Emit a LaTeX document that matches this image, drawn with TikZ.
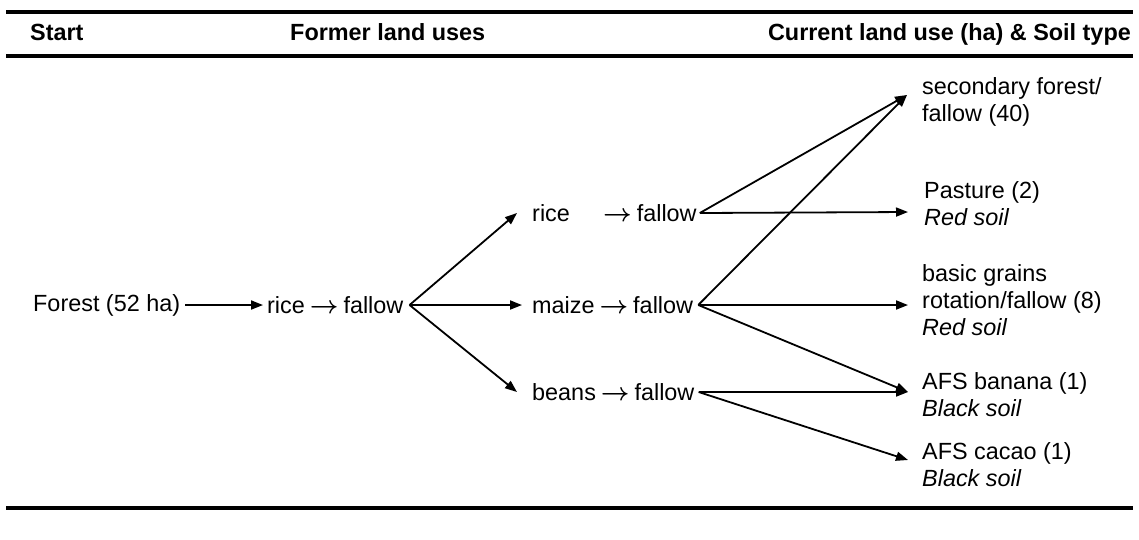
\documentclass[tikz,border=0pt]{standalone}
\usepackage{fontspec}
\setmainfont{Liberation Sans}
\usetikzlibrary{arrows.meta,calc}
\newcommand{\toarr}{\hspace{5pt}{\boldmath$\rightarrow$}\hspace{5pt}}
\begin{document}
\begin{tikzpicture}[x=1pt,y=-1pt,
  txt/.style={inner sep=0pt, anchor=west, font=\fontsize{23.4}{27}\selectfont, align=left},
  hdr/.style={inner sep=0pt, anchor=base west, font=\fontsize{23.4}{27}\selectfont\bfseries},
  rulebar/.style={line width=3.5pt},
  conn/.style={line width=1.8pt, -{Triangle[length=12pt,width=9pt]}}]
\fill[white] (0,0) rectangle (1139,539);
\useasboundingbox (0,0) rectangle (1139,539);
% rules
\draw[rulebar] (6,12) -- (1133,12);
\draw[rulebar] (6,56) -- (1133,56);
\draw[rulebar] (6,508) -- (1133,508);
% headers
\node[hdr] (hS) at (30,40) {Start};
\node[hdr] (hF) at (290,40) {Former land uses};
\node[hdr, anchor=base east] (hC) at (1131,40) {Current land use (ha) \& Soil type};
% left and middle nodes
\node[txt] (forest) at (33,305) {Forest (52 ha)};
\node[txt] (rf) at (267,305) {rice\toarr fallow};
\node[txt] (rice) at (532,213) {\makebox[66pt][l]{rice}\toarr fallow};
\node[txt] (maize) at (532,305) {maize\toarr fallow};
\node[txt] (beans) at (532,392) {beans\toarr fallow};
% right nodes
\node[txt] (sec) at (922,101.5) {secondary forest/\\fallow (40)};
\node[txt] (past) at (924,204) {Pasture (2)\\\textit{Red soil}};
\node[txt] (grain) at (922,300) {basic grains\\rotation/fallow (8)\\\textit{Red soil}};
\node[txt] (ban) at (922,395) {AFS banana (1)\\\textit{Black soil}};
\node[txt] (cac) at (922,465) {AFS cacao (1)\\\textit{Black soil}};
% branch points
\coordinate (v0) at ($(rf.east)+(6,0)$);
\coordinate (v1) at ($(rice.east)+(3,0)$);
\coordinate (v2) at ($(maize.east)+(5,0)$);
\coordinate (v3) at ($(beans.east)+(4,0)$);
% arrow end points
\coordinate (tRice) at ($(rice.west)+(-15,0)$);
\coordinate (tMaize) at ($(maize.west)+(-10,0)$);
\coordinate (tBeans) at ($(beans.west)+(-15,0)$);
\coordinate (tSec) at ($(sec.west)+(-15,-6.5)$);
\coordinate (tPast) at ($(past.west)+(-16,8)$);
\coordinate (tGrain) at ($(grain.west)+(-14,5)$);
\coordinate (tBan) at ($(ban.west)+(-14,-3)$);
\coordinate (tCac) at ($(cac.west)+(-14,-5)$);
% connectors
\draw[conn, shorten <=5pt, shorten >=4pt] (forest.east) -- (rf.west);
\draw[conn] (v0) -- (tRice);
\draw[conn] (v0) -- (tMaize);
\draw[conn] (v0) -- (tBeans);
\draw[conn] (v1) -- (tSec);
\draw[conn] (v1) -- (tPast);
\draw[conn] (v2) -- (tSec);
\draw[conn] (v2) -- (tGrain);
\draw[conn] (v2) -- (tBan);
\draw[conn] (v3) -- (tBan);
\draw[conn] (v3) -- (tCac);
\end{tikzpicture}
\end{document}
